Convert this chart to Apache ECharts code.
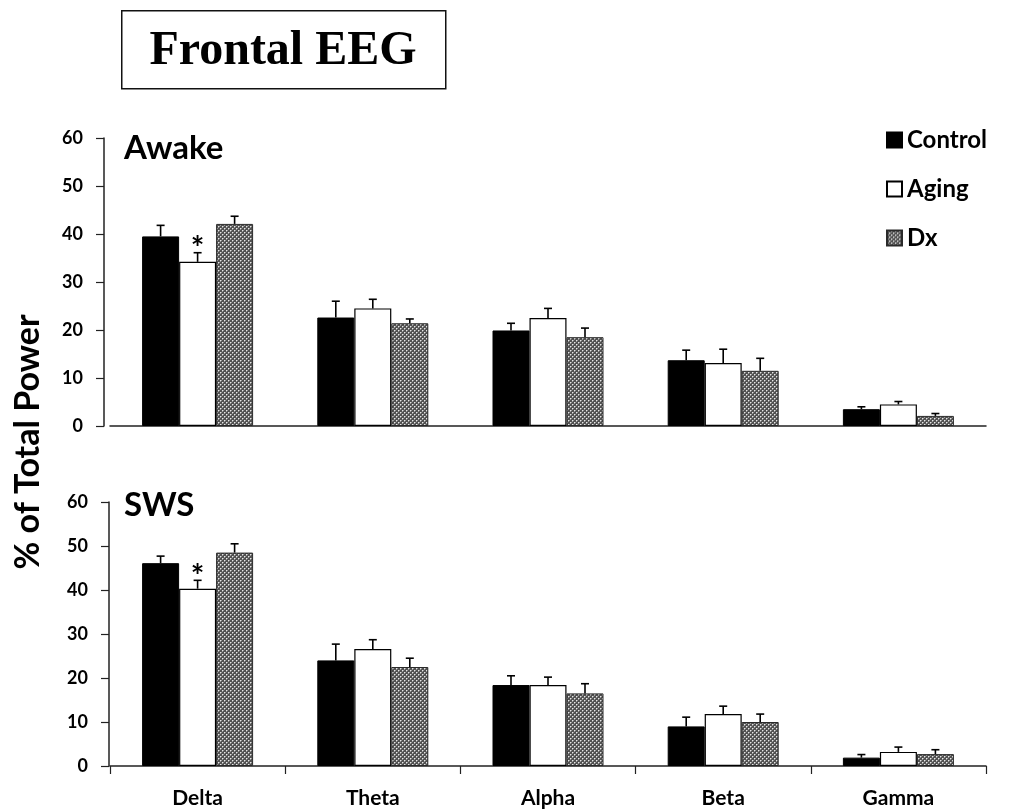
<!DOCTYPE html>
<html>
<head>
<meta charset="utf-8">
<title>Frontal EEG</title>
<script src="https://cdn.jsdelivr.net/npm/echarts@6/dist/echarts.min.js"></script>
<style>
  html, body { margin: 0; padding: 0; background: #fff; }
  #chart { width: 1019px; height: 810px; }
</style>
</head>
<body>
<div id="chart"></div>
<script>
// EEG frequency bands on the x axis
const bands = ['Delta', 'Theta', 'Alpha', 'Beta', 'Gamma'];
const groups = ['Control', 'Aging', 'Dx'];
const yTicks = [0, 10, 20, 30, 40, 50, 60];

// Awake state: mean % of total power and SEM
const awakeControl = [39.5, 22.6, 19.9, 13.7, 3.5];
const awakeControlSem = [2.3, 3.4, 1.5, 2.1, 0.5];
const awakeAging = [34.2, 24.5, 22.5, 13.1, 4.5];
const awakeAgingSem = [1.9, 1.9, 2.0, 2.9, 0.6];
const awakeDx = [42.1, 21.4, 18.5, 11.5, 2.1];
const awakeDxSem = [1.6, 0.9, 1.9, 2.6, 0.5];

// Slow-wave sleep: mean % of total power and SEM
const swsControl = [46.1, 24.0, 18.4, 9.0, 1.9];
const swsControlSem = [1.6, 3.7, 2.1, 2.1, 0.7];
const swsAging = [40.3, 26.6, 18.4, 11.8, 3.2];
const swsAgingSem = [1.9, 2.1, 1.8, 1.8, 1.1];
const swsDx = [48.5, 22.5, 16.5, 10.0, 2.7];
const swsDxSem = [2.0, 2.0, 2.2, 1.8, 1.0];

// significance markers (1 = asterisk above the bar)
const awakeAgingSig = [1, 0, 0, 0, 0];
const swsAgingSig = [1, 0, 0, 0, 0];
const noSig = [0, 0, 0, 0, 0];

const FONT = 'Lato, "Open Sans", sans-serif';
const BAR_W = 37;

// fine dotted gray fill used for the Dx group
function makeDotPattern() {
  const c = document.createElement('canvas');
  c.width = 4; c.height = 4;
  const g = c.getContext('2d');
  g.fillStyle = '#525252'; g.fillRect(0, 0, 4, 4);
  g.fillStyle = '#999999';
  g.fillRect(1, 0, 1, 1); g.fillRect(0, 1, 1, 1);
  g.fillRect(3, 2, 1, 1); g.fillRect(2, 3, 1, 1);
  g.fillStyle = '#e6e6e6';
  g.fillRect(0, 0, 1, 1); g.fillRect(2, 2, 1, 1);
  return c;
}
const dotFill = { image: makeDotPattern(), repeat: 'repeat' };

const groupStyles = [
  { color: '#000000', borderColor: '#000000', borderWidth: 1 },
  { color: '#ffffff', borderColor: '#000000', borderWidth: 1.2 },
  { color: dotFill, borderColor: '#2a2a2a', borderWidth: 1 }
];

function barSeries(slot, values, axisIdx) {
  return {
    type: 'bar',
    name: groups[slot],
    xAxisIndex: axisIdx,
    yAxisIndex: axisIdx,
    data: values,
    barWidth: BAR_W,
    barGap: '0%',
    itemStyle: groupStyles[slot],
    emphasis: { disabled: true },
    z: 2
  };
}

// upper-only error bars with caps, plus optional asterisk
function errorSeries(slot, means, sems, sig, axisIdx) {
  return {
    type: 'custom',
    name: groups[slot] + ' SEM',
    xAxisIndex: axisIdx,
    yAxisIndex: axisIdx,
    z: 5,
    silent: true,
    data: means.map((m, i) => [i, m, m + sems[i], sig[i]]),
    encode: { x: 0, y: 1 },
    renderItem(params, api) {
      const base = api.coord([api.value(0), api.value(1)]);
      const top = api.coord([api.value(0), api.value(2)]);
      const x = base[0] + (slot - 1) * BAR_W;
      const children = [
        { type: 'line', shape: { x1: x, y1: base[1], x2: x, y2: top[1] },
          style: { stroke: '#000', lineWidth: 1.6 } },
        { type: 'line', shape: { x1: x - 4, y1: top[1], x2: x + 4, y2: top[1] },
          style: { stroke: '#000', lineWidth: 1.6 } }
      ];
      if (api.value(3)) {
        children.push({ type: 'text', style: {
          text: '*', x: x, y: top[1] - 3, align: 'center', verticalAlign: 'middle',
          font: 'bold 32px ' + FONT, fill: '#000' } });
      }
      return { type: 'group', children };
    }
  };
}

const axisLine = { show: true, lineStyle: { color: '#222', width: 1.5 } };

function yAxisFor(gridIdx, offset) {
  return {
    type: 'value', gridIndex: gridIdx, min: yTicks[0], max: yTicks[yTicks.length - 1],
    interval: 10, offset: offset,
    axisLine: axisLine,
    axisTick: { show: true, length: 8, lineStyle: { color: '#222', width: 1.2 } },
    splitLine: { show: false },
    axisLabel: { color: '#000', fontFamily: FONT, fontWeight: 'bold', fontSize: 18, margin: 21 }
  };
}

const chart = echarts.init(document.getElementById('chart'), null, { renderer: 'canvas' });

chart.setOption({
  animation: false,
  backgroundColor: '#ffffff',
  title: [
    { text: 'Awake', left: 119, top: 127,
      textStyle: { fontFamily: FONT, fontWeight: 'bold', fontSize: 33, color: '#000' } },
    { text: 'SWS', left: 119, top: 484,
      textStyle: { fontFamily: FONT, fontWeight: 'bold', fontSize: 33, color: '#000' } }
  ],
  legend: {
    data: groups,
    icon: 'rect',
    orient: 'vertical',
    left: 881, top: 123,
    itemWidth: 15, itemHeight: 15, itemGap: 25,
    selectedMode: false,
    textStyle: { fontFamily: FONT, fontWeight: 'bold', fontSize: 24, color: '#000' }
  },
  graphic: [
    { type: 'rect', left: 121, top: 10, shape: { width: 324, height: 78 },
      style: { fill: '#fff', stroke: '#111', lineWidth: 1.5 } },
    { type: 'text', x: 283, y: 52,
      style: { text: 'Frontal EEG', align: 'center', verticalAlign: 'middle',
               font: 'bold 48px "Liberation Serif", "Times New Roman", serif', fill: '#000' } },
    { type: 'text', x: 28, y: 442, rotation: Math.PI / 2,
      style: { text: '% of Total Power', align: 'center', verticalAlign: 'middle',
               font: 'bold 34px ' + FONT, fill: '#000' } }
  ],
  grid: [
    { left: 110, width: 876, top: 138, height: 288 },
    { left: 110, width: 876, top: 502, height: 264 }
  ],
  xAxis: [
    { type: 'category', gridIndex: 0, data: bands,
      axisLine: axisLine, axisTick: { show: false }, axisLabel: { show: false } },
    { type: 'category', gridIndex: 1, data: bands,
      axisLine: axisLine,
      axisTick: { show: true, length: 8, lineStyle: { color: '#222', width: 1.2 } },
      axisLabel: { color: '#000', fontFamily: FONT, fontWeight: 'bold', fontSize: 21, margin: 22 } }
  ],
  yAxis: [yAxisFor(0, 6), yAxisFor(1, 1)],
  series: [
    barSeries(0, awakeControl, 0),
    barSeries(1, awakeAging, 0),
    barSeries(2, awakeDx, 0),
    errorSeries(0, awakeControl, awakeControlSem, noSig, 0),
    errorSeries(1, awakeAging, awakeAgingSem, awakeAgingSig, 0),
    errorSeries(2, awakeDx, awakeDxSem, noSig, 0),
    barSeries(0, swsControl, 1),
    barSeries(1, swsAging, 1),
    barSeries(2, swsDx, 1),
    errorSeries(0, swsControl, swsControlSem, noSig, 1),
    errorSeries(1, swsAging, swsAgingSem, swsAgingSig, 1),
    errorSeries(2, swsDx, swsDxSem, noSig, 1)
  ]
});
</script>
</body>
</html>
